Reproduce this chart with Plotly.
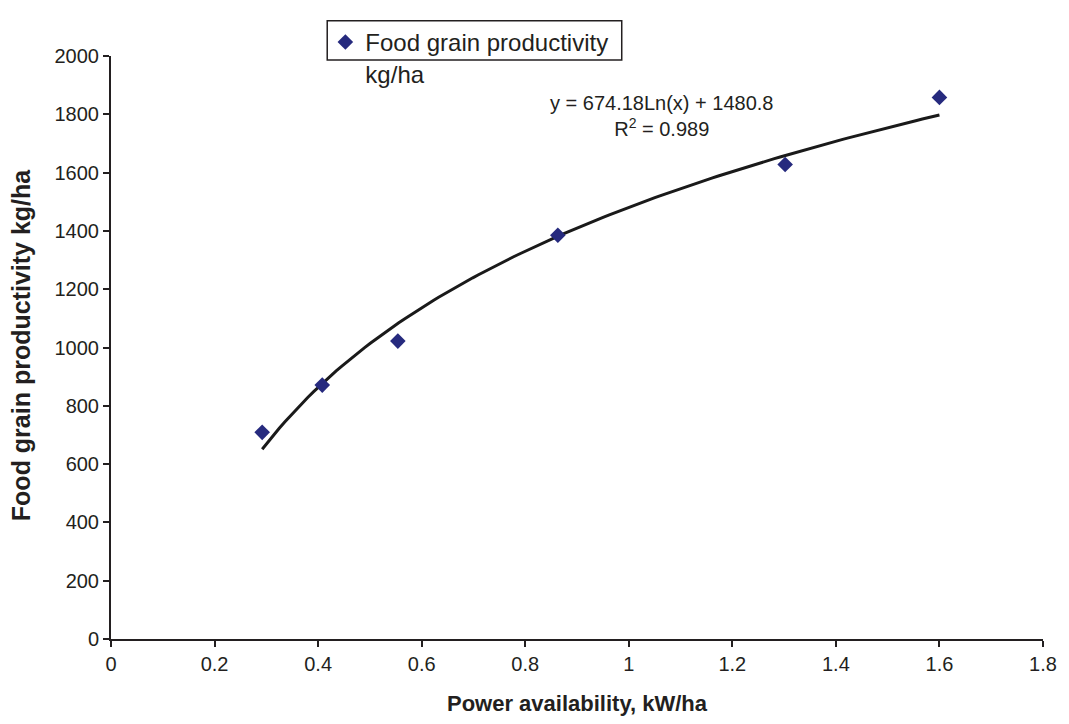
import numpy as np
import plotly.graph_objects as go

# Data
power_kw_ha = [0.292, 0.408, 0.554, 0.863, 1.302, 1.600]
grain_kg_ha = [709, 871, 1022, 1385, 1628, 1858]

# Logarithmic trendline coefficients as printed on the chart
trend_a = 674.18
trend_b = 1480.8
r_squared = 0.989

x_ticks = [0, 0.2, 0.4, 0.6, 0.8, 1, 1.2, 1.4, 1.6, 1.8]
y_ticks = [0, 200, 400, 600, 800, 1000, 1200, 1400, 1600, 1800, 2000]

FONT = "Liberation Sans, Arial, sans-serif"
AXIS_COLOR = "#231f20"

tx = np.linspace(min(power_kw_ha), max(power_kw_ha), 120)
ty = trend_a * np.log(tx) + trend_b

fig = go.Figure()
fig.add_trace(go.Scatter(
    x=tx, y=ty, mode="lines",
    line=dict(color="#1a1a1a", width=3),
    showlegend=False, hoverinfo="skip",
))
fig.add_trace(go.Scatter(
    x=power_kw_ha, y=grain_kg_ha, mode="markers",
    name="Food grain productivity<br>kg/ha",
    marker=dict(symbol="diamond", size=12, color="#262a7e"),
))

# page body has an 8px margin, so the figure is sized/offset to compensate
fig.update_layout(
    width=1061, height=716,
    margin=dict(l=103, r=19, t=41, b=80),
    plot_bgcolor="white", paper_bgcolor="white",
    font=dict(family=FONT, size=20, color="#231f20"),
    showlegend=True,
    legend=dict(
        x=0.230, y=1.062, xanchor="left", yanchor="top",
        bgcolor="rgba(0,0,0,0)", borderwidth=0,
        font=dict(size=24, family=FONT, color="#231f20"),
        valign="top", itemwidth=30, tracegroupgap=0,
    ),
    xaxis=dict(
        range=[0, 1.8], tickvals=x_ticks,
        ticktext=[f"{v:g}" for v in x_ticks],
        showgrid=False, zeroline=False,
        showline=True, linecolor=AXIS_COLOR, linewidth=2,
        ticks="outside", ticklen=6, tickwidth=2, tickcolor=AXIS_COLOR,
        tickfont=dict(size=20),
        title=dict(text="<b>Power availability, kW/ha</b>", font=dict(size=22), standoff=22),
    ),
    yaxis=dict(
        range=[0, 2000], tickvals=y_ticks,
        showgrid=False, zeroline=False,
        showline=True, linecolor=AXIS_COLOR, linewidth=2,
        ticks="outside", ticklen=6, tickwidth=2, tickcolor=AXIS_COLOR,
        tickfont=dict(size=20),
    ),
    shapes=[dict(
        type="rect", xref="paper", yref="paper",
        x0=0.232, x1=0.548, y0=0.9933, y1=1.0605,
        line=dict(color="#231f20", width=1.5), fillcolor="rgba(0,0,0,0)",
    )],
    annotations=[
        dict(
            xref="paper", yref="paper", x=0.591, y=0.897,
            xanchor="center", yanchor="middle", showarrow=False, align="center",
            text=f"y = {trend_a}Ln(x) + {trend_b}<br>R<sup>2</sup> = {r_squared}",
            font=dict(size=20, family=FONT, color="#231f20"),
        ),
        dict(
            xref="paper", yref="paper", x=-0.097, y=0.505,
            xanchor="center", yanchor="middle", showarrow=False, textangle=-90,
            text="<b>Food grain productivity kg/ha</b>",
            font=dict(size=25, family=FONT, color="#231f20"),
        ),
    ],
)

fig.write_html("out.html")
